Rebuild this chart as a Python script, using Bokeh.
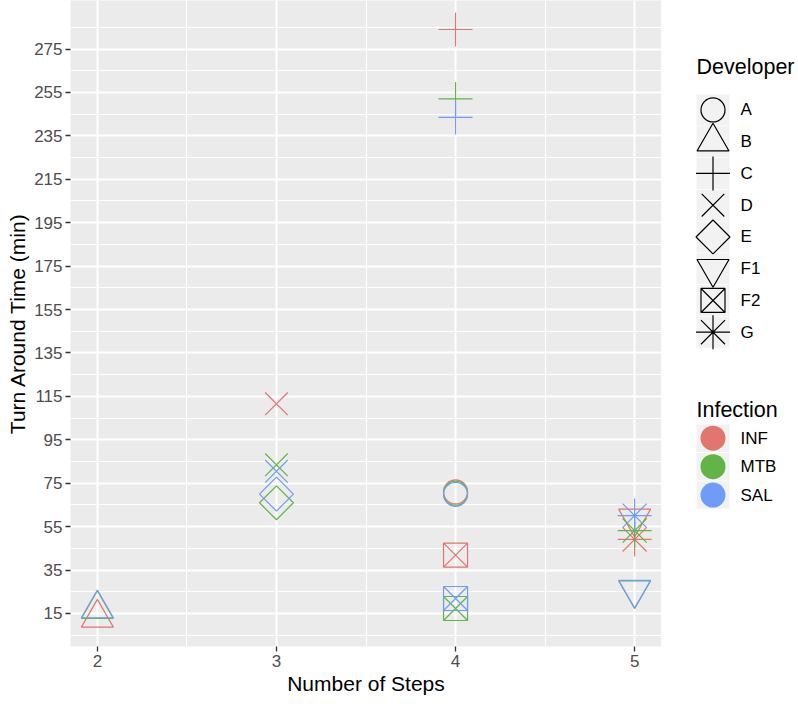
from bokeh.plotting import figure
from bokeh.layouts import row
from bokeh.models import Range1d, FixedTicker, ColumnDataSource
from bokeh.core.properties import value
from bokeh.embed import file_html
from bokeh.resources import INLINE

# ---- data ----
steps = [2, 2, 2, 3, 3, 3, 3, 3, 4, 4, 4, 4, 4, 4, 4, 4, 4, 5, 5, 5, 5, 5, 5]
tat = [13.0, 17.0, 17.3, 111.6, 83.5, 80.5, 70.0, 66.0, 284.0, 252.0, 243.5,
       71.0, 70.4, 69.9, 41.9, 17.3, 21.9, 58.8, 25.8, 26.0, 49.1, 53.2, 60.1]
developer = ["B", "B", "B", "D", "D", "D", "E", "E", "C", "C", "C",
             "A", "A", "A", "F2", "F2", "F2", "F1", "F1", "F1", "G", "G", "G"]
infection = ["INF", "MTB", "SAL", "INF", "MTB", "SAL", "SAL", "MTB", "INF", "MTB", "SAL",
             "INF", "MTB", "SAL", "INF", "MTB", "SAL", "INF", "MTB", "SAL", "INF", "MTB", "SAL"]

dev_levels = ["A", "B", "C", "D", "E", "F1", "F2", "G"]
inf_levels = ["INF", "MTB", "SAL"]
y_ticks = list(range(15, 276, 20))
y_minor = list(range(5, 296, 20))
x_ticks = [2, 3, 4, 5]
x_minor = [2.5, 3.5, 4.5]

# ---- styles ----
inf_colors = {"INF": "#E0766F", "MTB": "#63B447", "SAL": "#6F9DF5"}
dev_marker = {"A": "circle", "B": "triangle", "C": "cross", "D": "x", "E": "square",
              "F1": "inverted_triangle", "F2": "square_x", "G": "asterisk"}
dev_size = {"A": 24, "B": 32, "C": 34, "D": 32, "E": 24, "F1": 32, "F2": 24, "G": 34}
dev_angle = {"A": 0, "B": 0, "C": 0, "D": 0, "E": 0.7853981634, "F1": 0, "F2": 0, "G": 0}
FONT = "Liberation Sans"

p = figure(frame_width=591, frame_height=646, output_backend="svg", toolbar_location=None,
           x_range=Range1d(1.85, 5.15), y_range=Range1d(-0.2, 297.35),
           min_border_left=70, min_border_right=0, min_border_top=0, min_border_bottom=58)
p.background_fill_color = "#EBEBEB"
p.border_fill_color = "white"
p.outline_line_color = None

p.xaxis.ticker = FixedTicker(ticks=x_ticks, minor_ticks=x_minor)
p.yaxis.ticker = FixedTicker(ticks=y_ticks, minor_ticks=y_minor)
for ax in (p.xaxis[0], p.yaxis[0]):
    ax.axis_line_color = None
    ax.major_tick_line_color = "#333333"
    ax.major_tick_line_width = 1.3
    ax.major_tick_out = 5
    ax.major_tick_in = 0
    ax.minor_tick_line_color = None
    ax.major_label_text_font = FONT
    ax.major_label_text_font_size = "17px"
    ax.major_label_text_color = "#4D4D4D"
    ax.axis_label_text_font = FONT
    ax.axis_label_text_font_size = "21px"
    ax.axis_label_text_font_style = "normal"
    ax.axis_label_text_color = "black"
    ax.major_label_standoff = 3
    ax.axis_label_standoff = 2
p.xaxis.axis_label = "Number of Steps"
p.yaxis.axis_label = "Turn Around Time (min)"

for g in (p.xgrid[0], p.ygrid[0]):
    g.grid_line_color = "white"
    g.grid_line_width = 2
    g.minor_grid_line_color = "white"
    g.minor_grid_line_width = 1

for inf in inf_levels:
    idx = [i for i, v in enumerate(infection) if v == inf]
    src = ColumnDataSource(dict(
        x=[steps[i] for i in idx],
        y=[tat[i] for i in idx],
        marker=[dev_marker[developer[i]] for i in idx],
        size=[dev_size[developer[i]] for i in idx],
        angle=[dev_angle[developer[i]] for i in idx],
    ))
    p.scatter("x", "y", source=src, marker="marker", size="size", angle="angle",
              fill_color=None, line_color=inf_colors[inf], line_width=1.2)

# ---- legend panel ----
LW, LH = 135, 704
lg = figure(width=LW, height=LH, output_backend="svg", toolbar_location=None,
            x_range=Range1d(0, LW), y_range=Range1d(LH, 0),
            min_border=0, x_axis_type=None, y_axis_type=None)
lg.outline_line_color = None
lg.xgrid.visible = False
lg.ygrid.visible = False
lg.background_fill_color = "white"
lg.border_fill_color = "white"

key_x = 51.5
lab_x = 79
title_x = 35
dev_y0, dev_dy = 119.3, 34.6
dev_ys = [dev_y0 + i * dev_dy for i in range(len(dev_levels))]
lg.text([title_x], [73], text=["Developer"], text_font=value(FONT), text_font_size="21.5px",
        text_baseline="middle", text_color="black")
lg.rect([key_x] * len(dev_levels), dev_ys, width=33, height=33.6,
        fill_color="#F2F2F2", line_color=None)
lg.scatter([key_x] * len(dev_levels), dev_ys,
           marker=[dev_marker[d] for d in dev_levels],
           size=[dev_size[d] for d in dev_levels],
           angle=[dev_angle[d] for d in dev_levels],
           fill_color=None, line_color="black", line_width=1.2)
lg.text([lab_x] * len(dev_levels), dev_ys, text=dev_levels, text_font=value(FONT),
        text_font_size="17px", text_baseline="middle", text_color="black")

inf_y0, inf_dy = 477, 31
inf_ys = [inf_y0 + i * inf_dy for i in range(len(inf_levels))]
lg.text([title_x], [446.7], text=["Infection"], text_font=value(FONT), text_font_size="21.5px",
        text_baseline="middle", text_color="black")
lg.rect([key_x] * len(inf_levels), inf_ys, width=33, height=30,
        fill_color="#F2F2F2", line_color=None)
lg.scatter([key_x] * len(inf_levels), inf_ys, marker="circle", size=25,
           fill_color=[inf_colors[k] for k in inf_levels], line_color=None)
lg.text([lab_x] * len(inf_levels), inf_ys, text=inf_levels, text_font=value(FONT),
        text_font_size="17px", text_baseline="middle", text_color="black")

layout = row(p, lg, spacing=0)
open("out.html", "w").write(file_html(layout, INLINE))
